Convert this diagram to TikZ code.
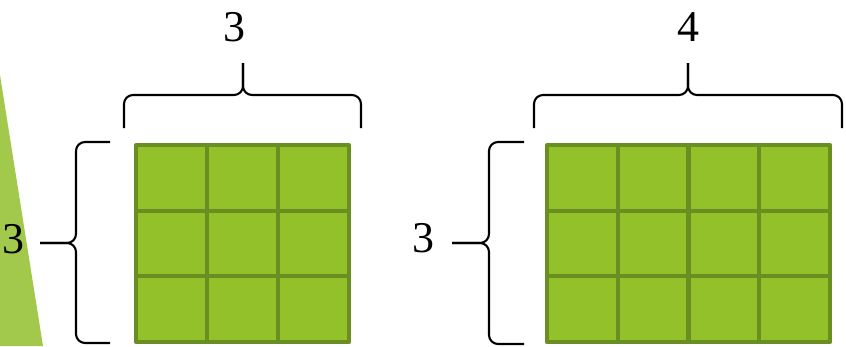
\documentclass[tikz,border=0pt]{standalone}
\usepackage{fontspec}
\setmainfont{Liberation Serif}
\definecolor{herbe}{HTML}{93C12A}
\definecolor{herbefonce}{HTML}{6B8E23}
\definecolor{coin}{HTML}{A3C94C}
\begin{document}
\begin{tikzpicture}[x=0.02cm,y=-0.02cm,
	case/.style={fill=herbe,draw=herbefonce,line width=2.3pt,line join=round},
	accolade/.style={line width=1.2pt,rounded corners=0.18cm},
	chiffre/.style={font=\fontsize{25}{30}\selectfont,inner sep=0pt}]
	\useasboundingbox (0,0) rectangle (846,346);
	%coin vert a gauche
	\fill[coin] (0,75) -- (43,346) -- (0,346) -- cycle;
	%premier quadrillage 3x3
	\foreach \i in {0,1,2}
		\foreach \j in {0,1,2}
			\draw[case] (136+71*\i,145+65.7*\j) rectangle ++(71,65.7);
	%second quadrillage 4x3
	\foreach \i in {0,1,2,3}
		\foreach \j in {0,1,2}
			\draw[case] (547+70.75*\i,145+65.7*\j) rectangle ++(70.75,65.7);
	%accolades du haut
	\coordinate (pointeA) at (243,63);
	\coordinate (pointeB) at (688,63);
	\draw[accolade] (124,128) -- (124,95) -- (243,95) -- (pointeA);
	\draw[accolade] (361,128) -- (361,95) -- (243,95) -- (pointeA);
	\draw[accolade] (534,128) -- (534,95) -- (688,95) -- (pointeB);
	\draw[accolade] (842,128) -- (842,95) -- (688,95) -- (pointeB);
	%accolades de gauche
	\coordinate (pointeC) at (40,243);
	\coordinate (pointeD) at (452,243);
	\draw[accolade] (110,142) -- (76,142) -- (76,243) -- (pointeC);
	\draw[accolade] (110,343) -- (76,343) -- (76,243) -- (pointeC);
	\draw[accolade] (524,142) -- (489,142) -- (489,243) -- (pointeD);
	\draw[accolade] (524,344) -- (489,344) -- (489,243) -- (pointeD);
	%les nombres
	\node[chiffre] (largeurA) at (234,27) {3};
	\node[chiffre] (largeurB) at (688,27) {4};
	\node[chiffre] (hauteurA) at (13,239) {3};
	\node[chiffre] (hauteurB) at (423,238) {3};
\end{tikzpicture}
\end{document}
